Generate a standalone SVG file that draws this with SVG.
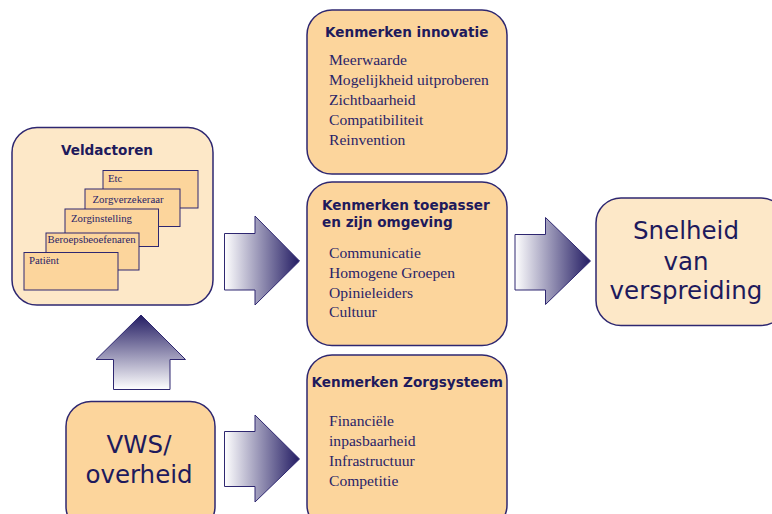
<svg xmlns="http://www.w3.org/2000/svg" width="772" height="514" viewBox="0 0 772 514">
<defs>
<linearGradient id="gh" x1="0" y1="0" x2="1" y2="0">
<stop offset="0" stop-color="#FFFFFF"/>
<stop offset="1" stop-color="#231C63"/>
</linearGradient>
<linearGradient id="gv" x1="0" y1="1" x2="0" y2="0">
<stop offset="0" stop-color="#FFFFFF"/>
<stop offset="1" stop-color="#231C63"/>
</linearGradient>
</defs>
<style>
.box{fill:#FCD59C;stroke:#2E2770;stroke-width:1.5}
.light{fill:#FDE8C8;stroke:#2E2770;stroke-width:1.5}
.card{fill:#FCD59C;stroke:#2E2770;stroke-width:1}
.arrow{stroke:#2E2770;stroke-width:1}
.title{font-family:"DejaVu Sans",Verdana,sans-serif;font-weight:bold;font-size:13.6px;fill:#1E1A5C}
.item{font-family:"Liberation Serif","Times New Roman",serif;font-size:15.6px;fill:#2A2468}
.small{font-family:"Liberation Serif","Times New Roman",serif;font-size:10.8px;fill:#2A2468}
.big{font-family:"DejaVu Sans",Verdana,sans-serif;font-size:24.5px;fill:#1E1A5C;text-anchor:middle}
</style>
<rect width="772" height="514" fill="#FFFFFF"/>

<g id="connectors">
<path class="arrow" fill="url(#gh)" d="M224.5,233.5 H255 V216 L299.5,261 L255,305 V290 H224.5 Z"/>
<path class="arrow" fill="url(#gh)" d="M515,234.5 H545.5 V217.5 L590.5,261 L545.5,304.5 V290 H515 Z"/>
<path class="arrow" fill="url(#gh)" d="M224.5,431.5 H255 V415 L299.5,459 L255,502 V486.5 H224.5 Z"/>
<path class="arrow" fill="url(#gv)" d="M113.5,389.5 V359.5 H96 L141,315 L185.5,359.5 H170 V389.5 Z"/>
</g>

<g id="veldactoren">
<rect class="light" x="12" y="127.5" width="201" height="177.5" rx="25" ry="25"/>
<text class="title" x="107" y="155" text-anchor="middle">Veldactoren</text>
<g id="card-etc">
<rect class="card" x="103" y="170.5" width="95" height="37.5"/>
<text class="small" x="108" y="182">Etc</text>
</g>
<g id="card-zorgverzekeraar">
<rect class="card" x="85" y="189" width="95" height="37.5"/>
<text class="small" x="92.5" y="203">Zorgverzekeraar</text>
</g>
<g id="card-zorginstelling">
<rect class="card" x="65" y="209" width="93.5" height="37.5"/>
<text class="small" x="71" y="222">Zorginstelling</text>
</g>
<g id="card-beroeps">
<rect class="card" x="46" y="233" width="93" height="37"/>
<text class="small" x="47.5" y="243">Beroepsbeoefenaren</text>
</g>
<g id="card-patient">
<rect class="card" x="24" y="252.5" width="94" height="37.5"/>
<text class="small" x="29" y="263.5">Patiënt</text>
</g>
</g>

<g id="innovatie">
<rect class="box" x="307" y="10" width="200" height="164" rx="25" ry="25"/>
<text class="title" x="325" y="37">Kenmerken innovatie</text>
<text class="item" x="329" y="65">Meerwaarde</text>
<text class="item" x="329" y="85">Mogelijkheid uitproberen</text>
<text class="item" x="329" y="105">Zichtbaarheid</text>
<text class="item" x="329" y="125">Compatibiliteit</text>
<text class="item" x="329" y="145">Reinvention</text>
</g>

<g id="toepasser">
<rect class="box" x="307" y="182" width="200" height="163.5" rx="25" ry="25"/>
<text class="title" x="322" y="210">Kenmerken toepasser</text>
<text class="title" x="322" y="227">en zijn omgeving</text>
<text class="item" x="329" y="258">Communicatie</text>
<text class="item" x="329" y="278">Homogene Groepen</text>
<text class="item" x="329" y="298">Opinieleiders</text>
<text class="item" x="329" y="317">Cultuur</text>
</g>

<g id="zorgsysteem">
<rect class="box" x="307" y="355" width="200" height="175" rx="25" ry="25"/>
<text class="title" x="311.5" y="387">Kenmerken Zorgsysteem</text>
<text class="item" x="329" y="426">Financiële</text>
<text class="item" x="329" y="446">inpasbaarheid</text>
<text class="item" x="329" y="466">Infrastructuur</text>
<text class="item" x="329" y="486">Competitie</text>
</g>

<g id="snelheid">
<rect class="light" x="596" y="198" width="190" height="127.5" rx="25" ry="25"/>
<text class="big" x="686" y="239">Snelheid</text>
<text class="big" x="686" y="270">van</text>
<text class="big" x="686" y="299">verspreiding</text>
</g>

<g id="vws">
<rect class="box" x="66" y="401.5" width="149" height="130" rx="25" ry="25"/>
<text class="big" x="139" y="453">VWS/</text>
<text class="big" x="139" y="483">overheid</text>
</g>
</svg>
